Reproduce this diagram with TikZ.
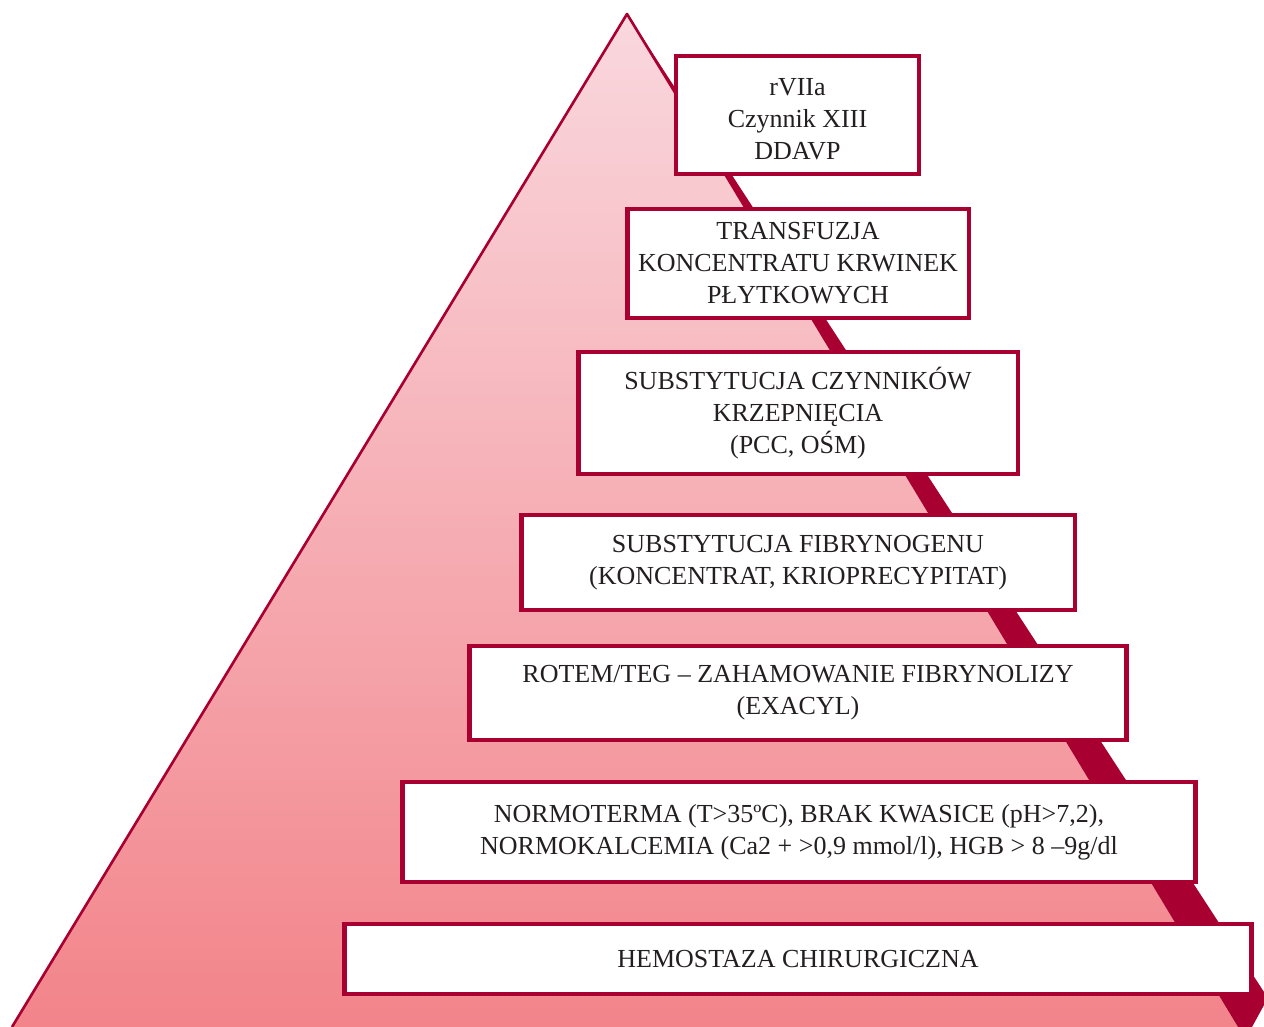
\documentclass[tikz,border=0pt]{standalone}
\usepackage{fontspec}
\setmainfont{Liberation Serif}
\definecolor{wine}{RGB}{168,0,48}
\definecolor{pinktop}{RGB}{249,216,222}
\definecolor{pinkbot}{RGB}{242,132,138}
\definecolor{ink}{RGB}{35,31,32}
\begin{document}
\begin{tikzpicture}
    [x=0.02cm,y=-0.02cm,
    tier/.style={draw=wine,line width=2.8pt,fill=white,text=ink,align=center,
        font=\fontsize{14.8}{18.2}\selectfont,inner sep=0pt}]
    \useasboundingbox (0,0) rectangle (1264,1027);
    \coordinate (apex) at (627,14);
    \coordinate (base left) at (12,1027);
    \coordinate (base right) at (1238,1027);
    \shade[top color=pinktop,bottom color=pinkbot] (apex) -- (base left) -- (base right) -- cycle;
    \fill[wine] (apex) -- (1264,992) -- (1264,1005) -- (1252,1027) -- (base right) -- cycle;
    \draw[wine,line width=1.5pt,line join=round] (base left) -- (apex) -- (690,117);
    \node[tier,minimum width=4.86cm,minimum height=2.36cm](drugs) at (797.5,115)
        {\rule{0pt}{14pt}rVIIa\\Czynnik XIII\\DDAVP};
    \node[tier,minimum width=6.84cm,minimum height=2.18cm](platelets) at (798,263.5)
        {TRANSFUZJA\\KONCENTRATU KRWINEK\\PŁYTKOWYCH};
    \node[tier,minimum width=8.80cm,minimum height=2.44cm](factors) at (798,413)
        {SUBSTYTUCJA CZYNNIKÓW\\KRZEPNIĘCIA\\(PCC, OŚM)};
    \node[tier,minimum width=11.08cm,minimum height=1.90cm](fibrinogen) at (798,562.5)
        {SUBSTYTUCJA FIBRYNOGENU\\(KONCENTRAT, KRIOPRECYPITAT)};
    \node[tier,minimum width=13.16cm,minimum height=1.88cm](rotem) at (798,693)
        {ROTEM/TEG – ZAHAMOWANIE FIBRYNOLIZY\\(EXACYL)};
    \node[tier,minimum width=15.88cm,minimum height=2.00cm](basics) at (799,832)
        {NORMOTERMA (T>35ºC), BRAK KWASICE (pH>7,2),\\NORMOKALCEMIA (Ca2 + >0,9 mmol/l), HGB > 8 –9g/dl};
    \node[tier,minimum width=18.16cm,minimum height=1.40cm](surgery) at (798,959)
        {HEMOSTAZA CHIRURGICZNA};
\end{tikzpicture}
\end{document}
